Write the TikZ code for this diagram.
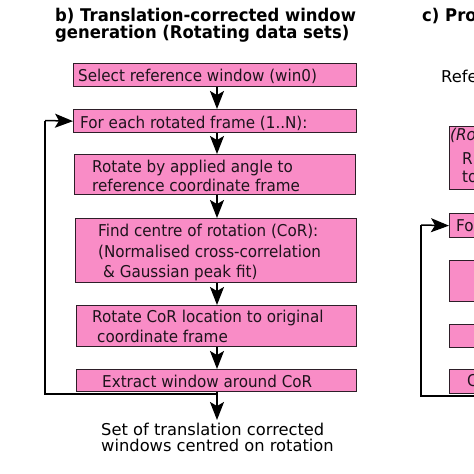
\documentclass[tikz,border=0pt]{standalone}
\usepackage{fontspec}
\setmainfont{DejaVu Sans}
\newfontfamily\boxfont{DejaVu Sans}[FakeStretch=0.93]
\newfontfamily\ttlfont{DejaVu Sans}[FakeStretch=0.94]
\usetikzlibrary{arrows.meta}
\definecolor{boxpink}{RGB}{249,140,198}
\definecolor{edgecol}{RGB}{45,30,40}
\definecolor{ink}{RGB}{30,20,28}
\begin{document}
\begin{tikzpicture}[x=1pt,y=-1pt,
  box/.style={draw=edgecol, line width=1.3pt, fill=boxpink, inner sep=0pt, anchor=north west},
  txt/.style={anchor=base west, inner sep=0pt, text=ink, font=\boxfont\fontsize{16.3}{20}\selectfont},
  otxt/.style={anchor=base west, inner sep=0pt, text=black, font=\fontsize{16.3}{20}\selectfont},
  ttl/.style={anchor=base west, inner sep=0pt, text=black, font=\ttlfont\bfseries\fontsize{17.5}{21}\selectfont},
  arr/.style={-{Stealth[length=18pt,width=14pt,inset=4pt]}, line width=1.5pt, black},
  loopline/.style={line width=1.6pt, black}]
\useasboundingbox (0,0) rectangle (474,474);
\fill[white] (0,0) rectangle (474,474);
\clip (0,0) rectangle (474,474);

% ---- panel b ----
\node[ttl] (t1) at (55,21) {b) Translation-corrected window};
\node[ttl] (t2) at (55,38) {generation (Rotating data sets)};

\node[box, minimum width=283pt, minimum height=23pt] (b1) at (73,63) {};
\node[box, minimum width=283pt, minimum height=23pt] (b2) at (73,109) {};
\node[box, minimum width=281pt, minimum height=40pt] (b3) at (74,154) {};
\node[box, minimum width=281pt, minimum height=64pt] (b4) at (75,218) {};
\node[box, minimum width=280pt, minimum height=41pt] (b5) at (76,305) {};
\node[box, minimum width=280pt, minimum height=22pt] (b6) at (76,369) {};

\node[txt] (l1) at (78,81) {Select reference window (win0)};
\node[txt] (l2) at (80,128) {For each rotated frame (1..N):};
\node[txt] (l3a) at (92,172) {Rotate by applied angle to};
\node[txt] (l3b) at (92,191) {reference coordinate frame};
\node[txt] (l4a) at (98,236) {Find centre of rotation (CoR):};
\node[txt] (l4b) at (98,257) {(Normalised cross-correlation};
\node[txt] (l4c) at (103,277) {\& Gaussian peak fit)};
\node[txt] (l5a) at (92,322) {Rotate CoR location to original};
\node[txt] (l5b) at (97,342) {coordinate frame};
\node[txt] (l6) at (102,387) {Extract window around CoR};

\node[otxt] (o1) at (101,435) {Set of translation corrected};
\node[otxt] (o2) at (101,451) {windows centred on rotation};

\coordinate (outend) at (217,420);
\coordinate (loopstart) at (217,394);
\coordinate (looptop) at (45,120.5);

\draw[arr] (b1.south -| outend) -- (b2.north -| outend);
\draw[arr] (b2.south -| outend) -- (b3.north -| outend);
\draw[arr] (b3.south -| outend) -- (b4.north -| outend);
\draw[arr] (b4.south -| outend) -- (b5.north -| outend);
\draw[arr] (b5.south -| outend) -- (b6.north -| outend);
\draw[arr] (b6.south -| outend) -- (outend);
\draw[loopline] (loopstart) -| (looptop);
\draw[arr] (looptop) -- (b2.west);

% ---- panel c (cropped at the right edge) ----
\node[ttl] (c1) at (422,21) {c) Pro};
\node[otxt] (c2) at (441,82) {Refe};

\node[box, minimum width=40pt, minimum height=63pt] (r1) at (449,126) {};
\node[box, minimum width=40pt, minimum height=24pt] (r2) at (449,213) {};
\node[box, minimum width=40pt, minimum height=41pt] (r3) at (449,260) {};
\node[box, minimum width=40pt, minimum height=23pt] (r4) at (449,324) {};
\node[box, minimum width=40pt, minimum height=24pt] (r5) at (449,369) {};

\node[txt, font=\boxfont\itshape\fontsize{16.3}{20}\selectfont] (r1a) at (450,140) {(Ro};
\node[txt] (r1b) at (462,164) {R};
\node[txt] (r1c) at (462,182) {to};
\node[txt] (r2a) at (456,231) {Fo};
\node[txt] (r5a) at (467,386) {C};

\coordinate (rloopend) at (490,396);
\coordinate (rlooptop) at (421,225);
\draw[loopline] (rloopend) -| (rlooptop);
\draw[arr] (rlooptop) -- (r2.west);
\end{tikzpicture}
\end{document}
